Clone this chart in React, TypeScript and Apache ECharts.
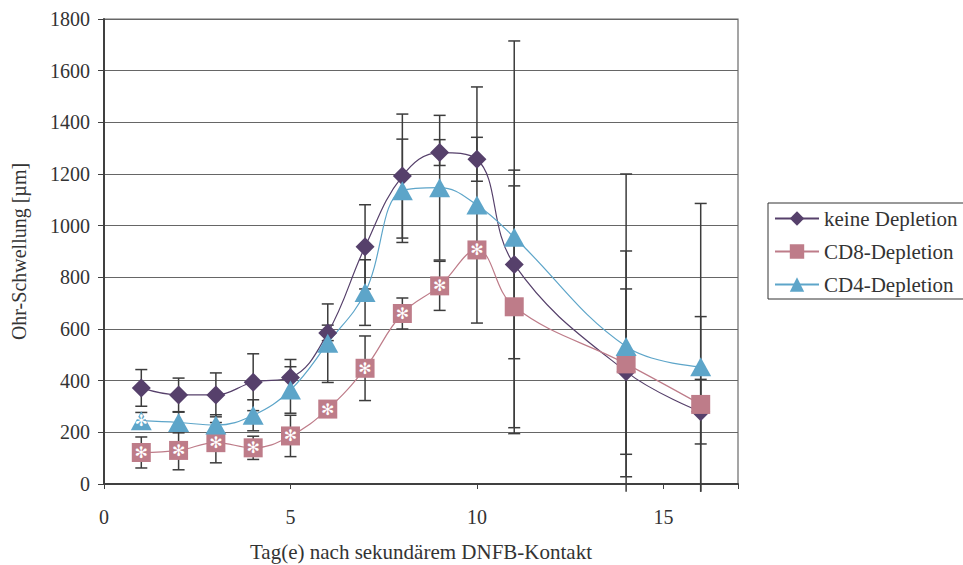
import React, { useEffect, useRef } from "react";
import * as echarts from "echarts";

const days = [1, 2, 3, 4, 5, 6, 7, 8, 9, 10, 11, 14, 16];
const keine = [372, 345, 345, 394, 412, 585, 918, 1192, 1283, 1257, 850, 435, 280];
const keineErr = [71, 65, 85, 110, 70, 30, 163, 240, 50, 85, 365, 320, 125];
const cd8 = [122, 130, 160, 140, 186, 290, 448, 660, 767, 906, 686, 465, 308];
const cd8Err = [60, 75, 78, 45, 80, 30, 125, 60, 95, 30, 468, 437, 340];
const cd8Sig = [1, 1, 1, 1, 1, 1, 1, 1, 1, 1, 0, 0, 0];
const cd4 = [245, 238, 228, 266, 364, 545, 741, 1135, 1147, 1080, 955, 532, 454];
const cd4Err = [32, 40, 40, 60, 90, 152, 127, 200, 280, 457, 760, 668, 632];
const cd4Sig = [1, 0, 0, 0, 0, 0, 0, 0, 0, 0, 0, 0, 0];
const seriesNames = ["keine Depletion", "CD8-Depletion", "CD4-Depletion"];
const yTicks = { min: 0, max: 1800, interval: 200 };
const xTicks = { min: 0, max: 17, interval: 5 };

const COLORS = ["#56406B", "#BE7C89", "#5DA5C9"];
const FONT = "Liberation Serif";
const LOW_CLIP = -30;

function errSeries(vals: number[], errs: number[]) {
  return {
    type: "custom",
    z: 1,
    clip: false,
    silent: true,
    data: days.map((d, i) => [d, vals[i], errs[i]]),
    encode: { x: 0, y: 1 },
    renderItem: (params: any, api: any) => {
      const x = api.value(0);
      const y = api.value(1);
      const e = api.value(2);
      let lo = y - e;
      const hi = y + e;
      const clamped = lo < LOW_CLIP;
      if (clamped) lo = LOW_CLIP;
      const pHi = api.coord([x, hi]);
      const pLo = api.coord([x, lo]);
      const hw = 6;
      const style = { stroke: "#3c3c3c", lineWidth: 1.5 };
      const children: any[] = [
        { type: "line", shape: { x1: pHi[0], y1: pHi[1], x2: pLo[0], y2: pLo[1] }, style },
        { type: "line", shape: { x1: pHi[0] - hw, y1: pHi[1], x2: pHi[0] + hw, y2: pHi[1] }, style },
      ];
      if (!clamped) {
        children.push({ type: "line", shape: { x1: pLo[0] - hw, y1: pLo[1], x2: pLo[0] + hw, y2: pLo[1] }, style });
      }
      return { type: "group", children };
    },
  };
}

function lineSeries(name: string, vals: number[], sig: number[] | null, symbol: string, size: any, color: string) {
  return {
    name,
    type: "line",
    z: 3,
    smooth: 0.4,
    symbol,
    symbolSize: size,
    showAllSymbol: true,
    itemStyle: { color },
    lineStyle: { color, width: 1.2 },
    label: {
      show: false,
      position: "inside",
      formatter: "✻",
      color: "#ffffff",
      fontSize: 16,
      fontFamily: "DejaVu Sans",
    },
    data: days.map((d, i) => ({
      value: [d, vals[i]],
      label: { show: !!(sig && sig[i]) },
    })),
  };
}

export default function App() {
  const ref = useRef<HTMLDivElement>(null);
  useEffect(() => {
    if (!ref.current) return;
    const chart = echarts.init(ref.current, null, { renderer: "svg" });
    const axisLineStyle = { color: "#404040", width: 2 };
    chart.setOption({
      animation: false,
      backgroundColor: "#ffffff",
      textStyle: { fontFamily: FONT },
      grid: {
        left: 104,
        right: 225,
        top: 19,
        bottom: 81,
        show: true,
        borderColor: "#6a6a6a",
        borderWidth: 1.2,
        outerBoundsMode: "none",
        containLabel: false,
      },
      legend: {
        data: seriesNames,
        orient: "vertical",
        left: 768,
        top: 203,
        itemWidth: 44,
        itemHeight: 18,
        itemGap: 12,
        padding: [5, 8, 4, 6],
        borderColor: "#333333",
        borderWidth: 1,
        textStyle: { fontSize: 21, fontFamily: FONT, color: "#333333" },
      },
      xAxis: {
        type: "value",
        min: xTicks.min,
        max: xTicks.max,
        interval: xTicks.interval,
        name: "Tag(e) nach sekundärem DNFB-Kontakt",
        nameLocation: "middle",
        nameGap: 57,
        nameTextStyle: { fontSize: 21, fontFamily: FONT, color: "#333333" },
        axisLine: { lineStyle: axisLineStyle },
        axisTick: { show: true, length: 5, lineStyle: { color: "#404040", width: 1 } },
        splitLine: { show: false },
        axisLabel: {
          fontSize: 20,
          fontFamily: FONT,
          color: "#333333",
          margin: 23,
          formatter: (v: number) => (v % 5 === 0 ? String(v) : ""),
        },
      },
      yAxis: {
        type: "value",
        min: yTicks.min,
        max: yTicks.max,
        interval: yTicks.interval,
        name: "Ohr-Schwellung [µm]",
        nameLocation: "middle",
        nameGap: 75,
        nameTextStyle: { fontSize: 20, fontFamily: FONT, color: "#333333" },
        axisLine: { show: true, lineStyle: axisLineStyle },
        axisTick: { show: true, length: 6, lineStyle: { color: "#404040", width: 1 } },
        splitLine: { show: true, lineStyle: { color: "#666666", width: 1.2 } },
        axisLabel: {
          fontSize: 20,
          fontFamily: FONT,
          color: "#333333",
          margin: 14,
          formatter: (v: number) => String(v),
        },
      },
      series: [
        errSeries(keine, keineErr),
        errSeries(cd8, cd8Err),
        errSeries(cd4, cd4Err),
        lineSeries(seriesNames[0], keine, null, "diamond", 19, COLORS[0]),
        lineSeries(seriesNames[1], cd8, cd8Sig, "rect", 19, COLORS[1]),
        lineSeries(seriesNames[2], cd4, cd4Sig, "triangle", [21, 19], COLORS[2]),
      ],
    });
    return () => chart.dispose();
  }, []);
  return (
    <div
      ref={ref}
      style={{ position: "fixed", left: 0, top: 0, width: 963, height: 565 }}
    />
  );
}
